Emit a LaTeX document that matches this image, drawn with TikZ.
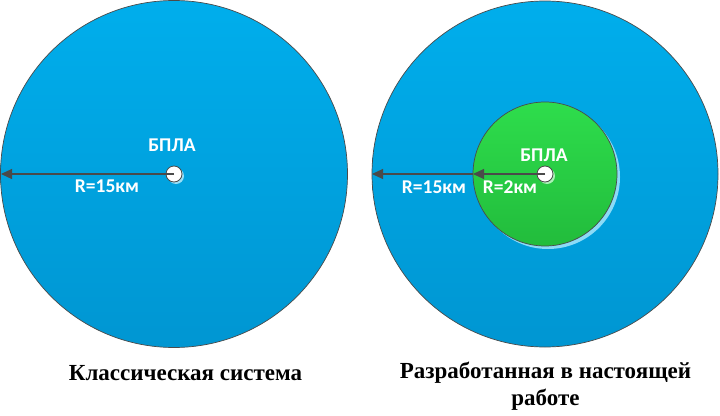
\documentclass[tikz,border=0pt]{standalone}
\usepackage{fontspec}
\setmainfont{Liberation Serif}
\newfontfamily\lblfont{Carlito}
\usetikzlibrary{arrows.meta}
\definecolor{bluetop}{HTML}{00AEEC}
\definecolor{bluebot}{HTML}{0096D2}
\definecolor{greentop}{HTML}{2EDD4C}
\definecolor{greenbot}{HTML}{22BC3C}
\definecolor{edgegray}{HTML}{4A4A4A}
\begin{document}
\begin{tikzpicture}[x=1pt,y=-1pt,
  bigdisc/.style={circle,draw=edgegray,line width=0.7pt,top color=bluetop,bottom color=bluebot,inner sep=0pt},
  greendisc/.style={circle,draw=edgegray,line width=0.7pt,top color=greentop,bottom color=greenbot,inner sep=0pt},
  hub/.style={circle,draw=edgegray,line width=0.8pt,fill=white,inner sep=0pt,minimum size=16pt},
  lbl/.style={text=white,font=\lblfont\bfseries\fontsize{19.5}{22}\selectfont,inner sep=0pt},
  captxt/.style={font=\bfseries\fontsize{23}{27}\selectfont,align=center,inner sep=0pt},
  arr/.style={draw=edgegray,line width=1.2pt,-{Triangle[length=11pt,width=10pt]}}]
\useasboundingbox (0,0) rectangle (720,415);
% left
\node[bigdisc,minimum size=347pt] (L) at (174,174) {};
\fill[white!60!bluetop] (176,176) circle (8pt);
\node[hub] (Lh) at (174,174) {};
\coordinate (Le) at (1,174);
\draw[arr] (Lh.center) -- (Le);
\node[lbl] (Lb) at (172,145) {БПЛА};
\node[lbl] (Lr) at (107,186) {R=15км};
\node[captxt] (Lc) at (185.5,373) {Классическая система};
% right
\node[bigdisc,minimum size=346pt] (R) at (545,174) {};
\fill[white!55!bluetop] (548,177) circle (72pt);
\node[greendisc,minimum size=144pt] (G) at (545,174) {};
\fill[white!60!greentop] (547,176) circle (8pt);
\node[hub] (Rh) at (545,174) {};
\coordinate (Ge) at (473,174);
\coordinate (Re) at (372,174);
\draw[arr] (Rh.center) -- (Ge);
\draw[arr] (Ge) -- (Re);
\node[lbl] (Rb) at (544,155) {БПЛА};
\node[lbl] (Rr1) at (434,187) {R=15км};
\node[lbl] (Rr2) at (510,187) {R=2км};
\node[captxt] (Rc) at (545.5,386) {Разработанная в настоящей\\работе};
\end{tikzpicture}
\end{document}
